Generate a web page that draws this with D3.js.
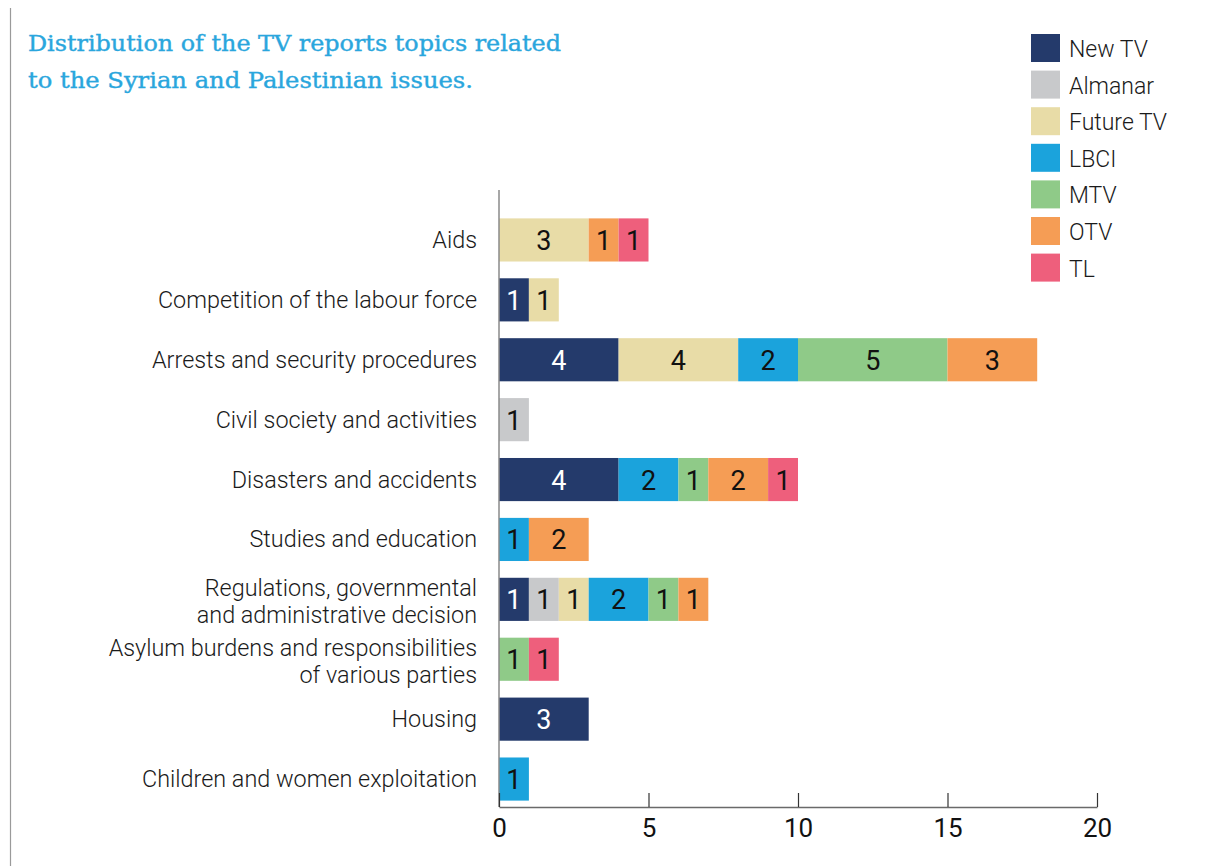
<!DOCTYPE html>
<html><head><meta charset="utf-8">
<script src="https://cdn.jsdelivr.net/npm/d3@7"></script>
<style>body{margin:0;background:#fff;} svg{display:block;}</style>
</head><body>
<svg id="c" width="1206" height="866"></svg>
<script>
const categories = [
  ["Aids"],
  ["Competition of the labour force"],
  ["Arrests and security procedures"],
  ["Civil society and activities"],
  ["Disasters and accidents"],
  ["Studies and education"],
  ["Regulations, governmental","and administrative decision"],
  ["Asylum burdens and responsibilities","of various parties"],
  ["Housing"],
  ["Children and women exploitation"]
];
const seriesNames = ["New TV","Almanar","Future TV","LBCI","MTV","OTV","TL"];
const newTV    = [0,1,4,0,4,0,1,0,3,0];
const almanar  = [0,0,0,1,0,0,1,0,0,0];
const futureTV = [3,1,4,0,0,0,1,0,0,0];
const lbci     = [0,0,2,0,2,1,2,0,0,1];
const mtv      = [0,0,5,0,1,0,1,1,0,0];
const otv      = [1,0,3,0,2,2,1,0,0,0];
const tl       = [1,0,0,0,1,0,0,1,0,0];
const xTicks = [0,5,10,15,20];
const colors = ["#243a6b","#c8c9cb","#e8dca7","#1ba3dc","#8fca88","#f59d55","#ee5f7c"];

const series = [newTV, almanar, futureTV, lbci, mtv, otv, tl];
const svg = d3.select("#c");
const x = d3.scaleLinear().domain([0,20]).range([499,1097]);
const y = d3.scaleBand().domain(d3.range(categories.length)).range([210,809]).paddingInner(0.28).paddingOuter(0.14);

// page border line
svg.append("line").attr("x1",10.5).attr("x2",10.5).attr("y1",8).attr("y2",866).attr("stroke","#9a9a9a").attr("stroke-width",1.2);

// title
const title = svg.append("text").attr("font-family","'DejaVu Serif Condensed','DejaVu Serif',serif").attr("font-size",22).attr("fill","#2aa6dd").attr("stroke","#2aa6dd").attr("stroke-width",0.35);
title.append("tspan").attr("x",28).attr("y",51).attr("textLength",533).attr("lengthAdjust","spacingAndGlyphs").text("Distribution of the TV reports topics related");
title.append("tspan").attr("x",28).attr("y",88).attr("textLength",445).attr("lengthAdjust","spacingAndGlyphs").text("to the Syrian and Palestinian issues.");

// stacked data
const rows = categories.map((c,i)=>{ let acc=0; return series.map((s,k)=>{ const v=s[i]; const seg={i,k,x0:acc,x1:acc+v,v}; acc+=v; return seg; }).filter(d=>d.v>0); });
const segs = rows.flat();

svg.append("g").selectAll("rect").data(segs).join("rect")
  .attr("x",d=>x(d.x0)).attr("width",d=>x(d.x1)-x(d.x0))
  .attr("y",d=>y(d.i)).attr("height",y.bandwidth())
  .attr("fill",d=>colors[d.k]);

svg.append("g").selectAll("text").data(segs).join("text")
  .attr("x",d=>(x(d.x0)+x(d.x1))/2).attr("y",d=>y(d.i)+y.bandwidth()/2+10)
  .attr("text-anchor","middle").attr("font-family","Roboto, sans-serif").attr("font-size",27)
  .attr("fill",d=>d.k===0?"#fff":"#111").text(d=>d.v);

// category labels
const lab = svg.append("g").attr("font-family","Roboto, sans-serif").attr("font-weight",300).attr("font-size",23.4).attr("fill","#1a1a1a").attr("text-anchor","end");
categories.forEach((c,i)=>{
  const cy = y(i)+y.bandwidth()/2;
  const t = lab.append("text");
  if(c.length===1){ t.append("tspan").attr("x",477).attr("y",cy+8).text(c[0]); }
  else { t.append("tspan").attr("x",477).attr("y",cy-3).text(c[0]); t.append("tspan").attr("x",477).attr("y",cy+24).text(c[1]); }
});

// y axis line
svg.append("line").attr("x1",499).attr("x2",499).attr("y1",190).attr("y2",807).attr("stroke","#8a8a8a").attr("stroke-width",1.5);

// x axis
const ax = svg.append("g").attr("transform","translate(0,807)")
  .call(d3.axisBottom(x).tickValues(xTicks).tickSizeInner(-14).tickSizeOuter(0).tickPadding(26));
ax.select(".domain").attr("stroke","#6a6a6a").attr("stroke-width",1.5);
ax.selectAll(".tick line").attr("stroke","#333").attr("stroke-width",1.2);
ax.selectAll(".tick text").attr("font-family","Roboto, sans-serif").attr("font-size",26).attr("fill","#111").attr("dy","0.15em");

// legend
const lg = svg.append("g");
seriesNames.forEach((n,k)=>{
  const ly = 34 + k*36.6;
  lg.append("rect").attr("x",1031).attr("y",ly).attr("width",29).attr("height",28).attr("fill",colors[k]);
  lg.append("text").attr("x",1069).attr("y",ly+23).attr("font-family","Roboto, sans-serif").attr("font-weight",300).attr("font-size",23).attr("fill","#1a1a1a").text(n);
});
</script>
</body></html>
